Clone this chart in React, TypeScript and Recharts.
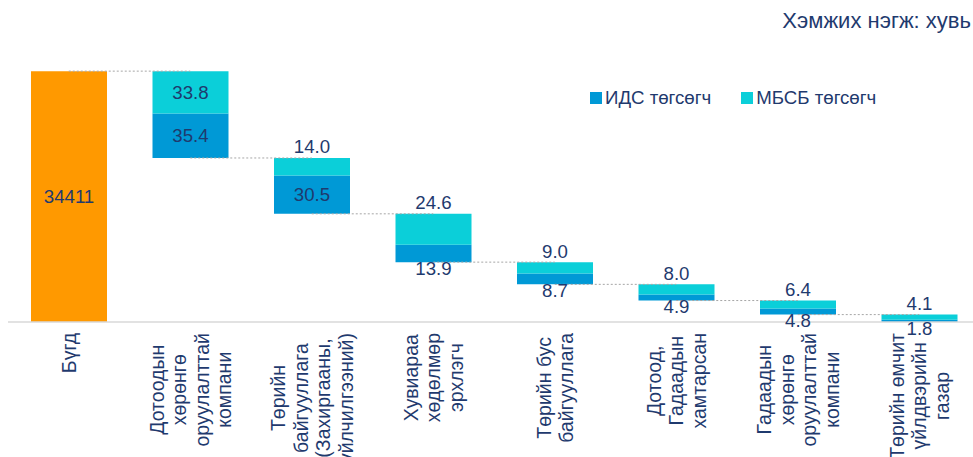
import React from "react";
import { Bar, BarChart, LabelList, Legend, ReferenceLine, XAxis, YAxis } from "recharts";

const categories = [
  "Бүгд",
  "Дотоодын\nхөрөнгө\nоруулалттай\nкомпани",
  "Төрийн\nбайгууллага\n(Захиргааны,\nүйлчилгээний)",
  "Хувиараа\nхөдөлмөр\nэрхлэгч",
  "Төрийн бус\nбайгууллага",
  "Дотоод,\nГадаадын\nхамтарсан",
  "Гадаадын\nхөрөнгө\nоруулалттай\nкомпани",
  "Төрийн өмчит\nүйлдвэрийн\nгазар",
];
const idsShare = [35.4, 30.5, 13.9, 8.7, 4.9, 4.8, 1.8];
const mbsbShare = [33.8, 14.0, 24.6, 9.0, 8.0, 6.4, 4.1];
const totalCount = 34411;
const seriesNames = ["ИДС төгсөгч", "МБСБ төгсөгч"];
const unitText = "Хэмжих нэгж: хувь";

const FONT = '"Liberation Sans", Arial, sans-serif';
const NAVY = "#1F3A6E";
const BLUE = "#0099D6";
const CYAN = "#0BCFD9";
const ORANGE = "#FF9900";
const TICK_FS = 19.5;

// waterfall rows: invisible base + two stacked parts
const grandTotal = idsShare.reduce((a, b) => a + b, 0) + mbsbShare.reduce((a, b) => a + b, 0);
const rows: any[] = [{ name: categories[0], total: grandTotal }];
let level = grandTotal;
idsShare.forEach((v, i) => {
  level -= v + mbsbShare[i];
  rows.push({ name: categories[i + 1], base: Math.max(level, 0), ids: v, mbsb: mbsbShare[i] });
});
const connectors = rows.slice(1).map((r, i) => ({
  from: rows[i].name,
  to: r.name,
  y: r.base + r.ids + r.mbsb,
}));

let ctx: CanvasRenderingContext2D | null = null;
function measure(s: string) {
  if (!ctx) {
    ctx = document.createElement("canvas").getContext("2d");
    if (ctx) ctx.font = `${TICK_FS}px ${FONT}`;
  }
  return ctx ? ctx.measureText(s).width : s.length * 10;
}

function CategoryTick(props: any) {
  const { x, y, payload } = props;
  const lines = String(payload.value).split("\n");
  const maxW = Math.max(...lines.map(measure));
  const cx = -(11 + maxW / 2);
  const step = 22.5;
  return (
    <g transform={`translate(${x},${y}) rotate(-90)`}>
      {lines.map((l, i) => (
        <text
          key={i}
          x={cx}
          y={(i - (lines.length - 1) / 2) * step}
          textAnchor="middle"
          dominantBaseline="central"
          fill={NAVY}
          fontSize={TICK_FS}
          fontFamily={FONT}
        >
          {l}
        </text>
      ))}
    </g>
  );
}

function segmentLabel(kind: "top" | "bottom") {
  return (p: any) => {
    const vb = p.viewBox ?? p;
    const { x, y, width, height } = vb;
    if (p.value == null || height == null) return null;
    const cx = x + width / 2;
    let cy;
    if (height >= 36) cy = y + height / 2;
    else if (kind === "top") cy = y - 11;
    else cy = y + height + 6;
    return (
      <text x={cx} y={cy} textAnchor="middle" dominantBaseline="central" fill={NAVY} fontSize={18.67} fontFamily={FONT}>
        {Number(p.value).toFixed(1)}
      </text>
    );
  };
}

function totalLabel(p: any) {
  const vb = p.viewBox ?? p;
  if (p.value == null) return null;
  return (
    <text
      x={vb.x + vb.width / 2}
      y={vb.y + vb.height / 2}
      textAnchor="middle"
      dominantBaseline="central"
      fill={NAVY}
      fontSize={18.67}
      fontFamily={FONT}
    >
      {totalCount}
    </text>
  );
}

function LegendContent() {
  const colors = [BLUE, CYAN];
  return (
    <div style={{ display: "flex", fontFamily: FONT, fontSize: 18.67, color: NAVY, lineHeight: "22px" }}>
      {seriesNames.map((n, i) => (
        <div key={n} style={{ display: "flex", alignItems: "center", marginRight: 30 }}>
          <span style={{ width: 12, height: 12, background: colors[i], display: "inline-block", marginRight: 3 }} />
          <span>{n}</span>
        </div>
      ))}
    </div>
  );
}

export default function App() {
  return (
    <div style={{ position: "absolute", left: 0, top: 0, width: 973, height: 457, overflow: "hidden", background: "#fff" }}>
      <div
        style={{
          position: "absolute",
          right: 2,
          top: 8,
          fontFamily: FONT,
          fontSize: 22,
          color: NAVY,
          whiteSpace: "nowrap",
        }}
      >
        {unitText}
      </div>
      <BarChart width={990} height={457} data={rows} margin={{ top: 71, right: 10, bottom: 0, left: 8 }} barSize={76}>
        <XAxis
          dataKey="name"
          interval={0}
          height={135}
          tickLine={false}
          tickSize={0}
          tickMargin={0}
          axisLine={{ stroke: "#D9D9D9", strokeWidth: 1.5 }}
          tick={<CategoryTick />}
        />
        <YAxis hide domain={[0, 200]} allowDataOverflow />
        <Legend
          layout="horizontal"
          verticalAlign="middle"
          align="center"
          content={<LegendContent />}
          wrapperStyle={{ top: 87, left: 590, width: 340 }}
        />
        {connectors.map((c, i) => (
          <ReferenceLine
            key={i}
            segment={[
              { x: c.from, y: c.y },
              { x: c.to, y: c.y },
            ]}
            stroke="#A6A6A6"
            strokeDasharray="2 2"
            strokeWidth={1}
          />
        ))}
        <Bar dataKey="base" stackId="a" fill="transparent" legendType="none" isAnimationActive={false} />
        <Bar dataKey="ids" name={seriesNames[0]} stackId="a" fill={BLUE} isAnimationActive={false}>
          <LabelList dataKey="ids" content={segmentLabel("bottom")} />
        </Bar>
        <Bar dataKey="mbsb" name={seriesNames[1]} stackId="a" fill={CYAN} isAnimationActive={false}>
          <LabelList dataKey="mbsb" content={segmentLabel("top")} />
        </Bar>
        <Bar dataKey="total" stackId="a" fill={ORANGE} legendType="none" isAnimationActive={false}>
          <LabelList dataKey="total" content={totalLabel} />
        </Bar>
      </BarChart>
    </div>
  );
}
